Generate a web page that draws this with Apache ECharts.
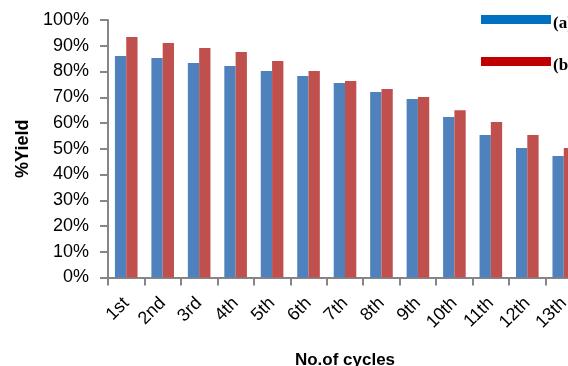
<!DOCTYPE html>
<html>
<head>
<meta charset="utf-8">
<script src="https://cdn.jsdelivr.net/npm/echarts@6/dist/echarts.min.js"></script>
<style>html,body{margin:0;padding:0;background:#fff;}#c{width:568px;height:366px;}</style>
</head>
<body>
<div id="c"></div>
<script>
var categories = ['1st','2nd','3rd','4th','5th','6th','7th','8th','9th','10th','11th','12th','13th'];
var seriesA = [86.0, 85.2, 83.3, 82.1, 80.2, 78.3, 75.5, 72.0, 69.3, 62.3, 55.3, 50.3, 47.2];
var seriesB = [93.4, 91.1, 89.1, 87.6, 84.1, 80.2, 76.3, 73.2, 70.1, 65.0, 60.4, 55.3, 50.3];
var seriesNames = ['(a)', '(b)'];
var yTicks = [0, 10, 20, 30, 40, 50, 60, 70, 80, 90, 100];

var chart = echarts.init(document.getElementById('c'), null, {renderer: 'canvas'});
var axisGray = '#868686';
chart.setOption({
  animation: false,
  backgroundColor: '#ffffff',
  grid: {left: 108, top: 20, width: 474, height: 257.5, containLabel: false, outerBoundsMode: 'none'},
  legend: {
    orient: 'vertical',
    left: 481,
    top: 15,
    padding: 0,
    itemWidth: 70,
    itemHeight: 9,
    itemGap: 25,
    icon: 'rect',
    formatter: '{t|{name}}',
    textStyle: {
      fontFamily: 'Liberation Serif', fontWeight: 'bold', fontSize: 17, color: '#000',
      rich: {t: {fontFamily: 'Liberation Serif', fontWeight: 'bold', fontSize: 17, color: '#000', padding: [8, 0, 0, -3]}}
    },
    data: [
      {name: seriesNames[0], itemStyle: {color: '#0070C0'}},
      {name: seriesNames[1], itemStyle: {color: '#C00000'}}
    ]
  },
  xAxis: {
    type: 'category',
    data: categories,
    name: 'No.of cycles',
    nameLocation: 'middle',
    nameGap: 74,
    nameTextStyle: {fontFamily: 'Liberation Sans', fontWeight: 'bold', fontSize: 17, color: '#000'},
    axisLine: {lineStyle: {color: axisGray, width: 2}},
    axisTick: {show: true, length: 8, lineStyle: {color: axisGray, width: 2}},
    axisLabel: {rotate: 45, margin: 23, fontFamily: 'Liberation Sans', fontSize: 18, color: '#000'}
  },
  yAxis: {
    type: 'value',
    min: yTicks[0],
    max: yTicks[yTicks.length - 1],
    interval: yTicks[1] - yTicks[0],
    name: '%Yield',
    nameLocation: 'middle',
    nameGap: 72,
    nameTextStyle: {fontFamily: 'Liberation Sans', fontWeight: 'bold', fontSize: 18, color: '#000'},
    splitLine: {show: false},
    axisLine: {show: true, lineStyle: {color: axisGray, width: 2}},
    axisTick: {show: true, length: 8, lineStyle: {color: axisGray, width: 2}},
    axisLabel: {margin: 19, fontFamily: 'Liberation Sans', fontSize: 18, color: '#000', formatter: '{value}%'}
  },
  series: [
    {name: seriesNames[0], type: 'bar', data: seriesA, barWidth: 11.3, barGap: '0%', itemStyle: {color: '#4F81BD'}},
    {name: seriesNames[1], type: 'bar', data: seriesB, barWidth: 11.3, barGap: '0%', itemStyle: {color: '#C0504D'}}
  ]
});
</script>
</body>
</html>
